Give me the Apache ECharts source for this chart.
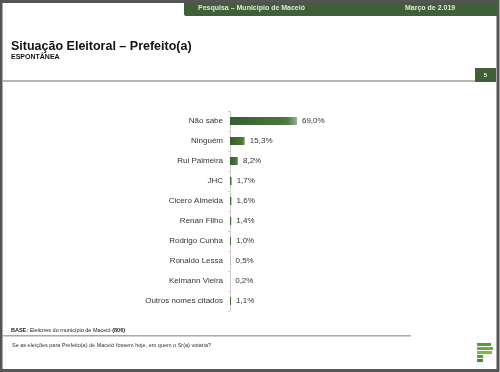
<!DOCTYPE html>
<html><head><meta charset="utf-8">
<script src="https://cdn.jsdelivr.net/npm/echarts@6/dist/echarts.min.js"></script>
<style>html,body{margin:0;padding:0;background:#fff}#c{width:500px;height:372px}</style>
</head><body><div id="c"></div>
<script>
const categories = ["Não sabe","Ninguém","Rui Palmeira","JHC","Cicero Almeida","Renan Filho","Rodrigo Cunha","Ronaldo Lessa","Kelmann Vieira","Outros nomes citados"];
const values = [69.0,15.3,8.2,1.7,1.6,1.4,1.0,0.5,0.2,1.1];

const chart = echarts.init(document.getElementById('c'), null, {renderer:'canvas'});
const green = '#3f5f38';
const font = 'Liberation Sans, Arial, sans-serif';
chart.setOption({
  animation:false,
  grid:{left:230,right:173,top:111,bottom:61,containLabel:false},
  xAxis:{type:'value',min:0,max:100,show:false},
  yAxis:{type:'category',data:categories,inverse:true,
    axisLine:{lineStyle:{color:'#d0d0d0',width:1}},
    axisTick:{show:true,length:2,lineStyle:{color:'#d0d0d0'}},
    axisLabel:{color:'#333',fontSize:8,fontFamily:font,margin:7}},
  series:[{type:'bar',data:values,barWidth:8,
    itemStyle:{color:new echarts.graphic.LinearGradient(0,0,1,0,[{offset:0,color:'#365f2e'},{offset:0.85,color:'#4a7a3f'},{offset:1,color:'#8fb085'}])},
    label:{show:true,position:'right',distance:5,color:'#333',fontSize:8,fontFamily:font,
      formatter:p=>p.value.toFixed(1).replace('.',',')+'%'}}],
  graphic:[
    {type:'rect',shape:{x:1,y:1.5,width:497,height:369},style:{fill:'none',stroke:'#555',lineWidth:3},silent:true},
    {type:'rect',shape:{x:184,y:3,width:313,height:13,r:[0,0,0,2]},style:{fill:green}},
    {type:'text',x:198,y:5,style:{text:'Pesquisa – Município de Maceió',fill:'#dfe8dc',font:'bold 7px '+font}},
    {type:'text',x:405,y:5,style:{text:'Março de 2.019',fill:'#dfe8dc',font:'bold 7px '+font}},
    {type:'text',x:11,y:40,style:{text:'Situação Eleitoral – Prefeito(a)',fill:'#111',font:'bold 12.5px '+font}},
    {type:'text',x:11,y:54,style:{text:'ESPONTÂNEA',fill:'#111',font:'bold 7px '+font}},
    {type:'rect',shape:{x:3,y:80,width:473,height:2},style:{fill:'#b4b8b0'}},
    {type:'rect',shape:{x:475,y:68,width:21,height:14},style:{fill:green}},
    {type:'text',x:485.5,y:75,style:{text:'5',fill:'#fff',font:'bold 6px '+font,align:'center',verticalAlign:'middle'}},
    {type:'text',x:11,y:327,style:{text:'{b|BASE:} Eleitores do município de Maceió {b|(806)}',fill:'#222',font:'5.5px '+font,rich:{b:{fontWeight:'bold',fontSize:5.5,fontFamily:font,fill:'#222'}}}},
    {type:'rect',shape:{x:3,y:335,width:408,height:1.5},style:{fill:'#a8aaa6'}},
    {type:'text',x:12,y:342,style:{text:'Se as eleições para Prefeito(a) de Maceió fossem hoje, em quem o Sr(a) votaria?',fill:'#333',font:'5.5px '+font}},
    {type:'rect',shape:{x:477,y:343,width:14,height:3},style:{fill:'#5a9a3a'}},
    {type:'rect',shape:{x:477,y:347,width:16,height:3},style:{fill:'#6aab40'}},
    {type:'rect',shape:{x:477,y:351,width:15,height:3},style:{fill:'#7cba48'}},
    {type:'rect',shape:{x:477,y:355,width:6,height:3},style:{fill:'#5a9a3a'}},
    {type:'rect',shape:{x:477,y:359,width:6,height:3},style:{fill:'#4a8a32'}}
  ]
});
</script></body></html>
